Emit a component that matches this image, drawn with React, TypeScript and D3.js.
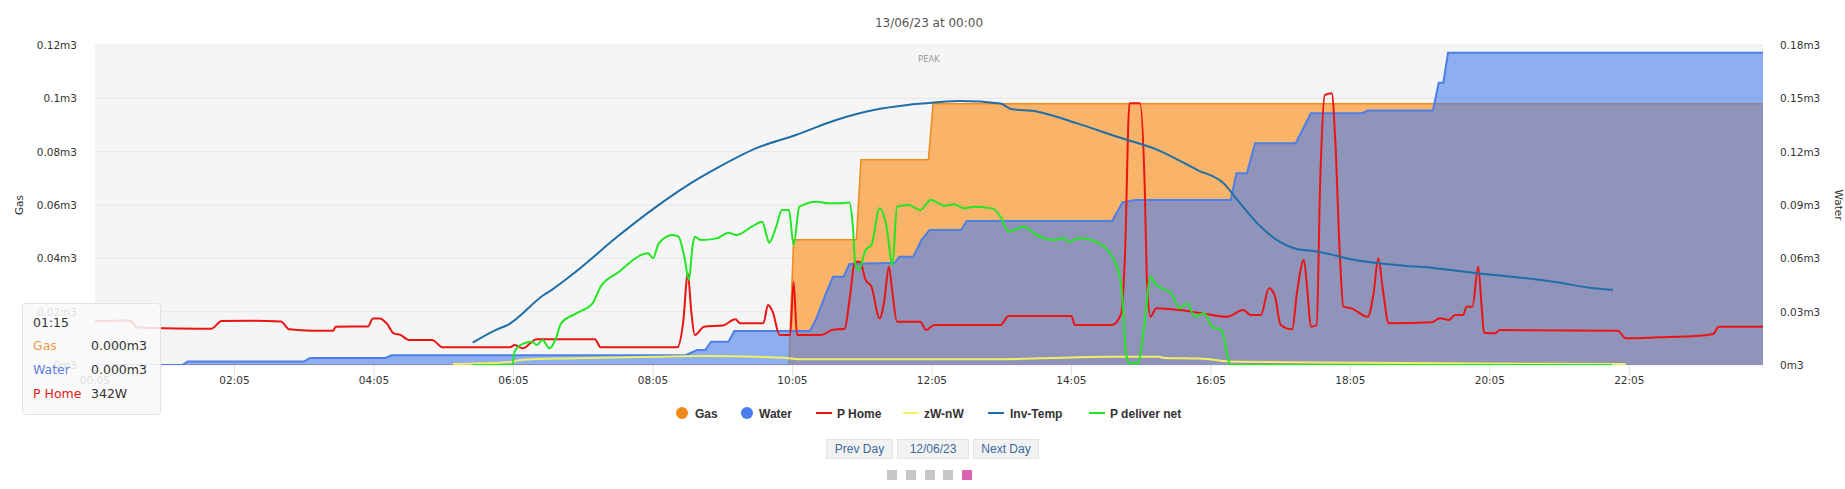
import * as d3 from 'd3';

// ---- data ----
const xTickLabels = ['00:05', '02:05', '04:05', '06:05', '08:05', '10:05', '12:05', '14:05', '16:05', '18:05', '20:05', '22:05'];
const gasTicks = [0, 0.02, 0.04, 0.06, 0.08, 0.1, 0.12];
const waterTicks = [0, 0.03, 0.06, 0.09, 0.12, 0.15, 0.18];

const gasTimes = ['00:05', '10:02', '10:06', '11:00', '11:04', '12:02', '12:06', '24:00'];
const gasValues = [0, 0, 0.047, 0.047, 0.077, 0.077, 0.098, 0.098];

const waterTimes = [
  '00:05', '01:20', '01:25', '03:05', '03:10', '04:15', '04:20', '08:33', '08:43', '08:50', '08:55', '09:10', '09:15',
  '10:20', '10:25', '10:34', '10:40', '10:49', '10:54', '11:33', '11:37', '11:49', '11:56', '12:03', '12:30', '12:35',
  '14:40', '14:49', '15:00', '16:22', '16:27', '16:36', '16:43', '17:18', '17:31', '18:15', '18:20', '19:16', '19:21',
  '19:25', '19:29', '24:00',
];
const waterValues = [
  0, 0, 0.002, 0.002, 0.004, 0.004, 0.0055, 0.0055, 0.0084, 0.0084, 0.0131, 0.0131, 0.0191,
  0.0191, 0.0253, 0.0405, 0.0497, 0.0497, 0.0568, 0.0575, 0.0609, 0.0609, 0.0703, 0.0759, 0.0759, 0.081,
  0.081, 0.0915, 0.0928, 0.0928, 0.1078, 0.1078, 0.1247, 0.1247, 0.1416, 0.1416, 0.1431, 0.1431, 0.1588,
  0.1588, 0.1757, 0.1757,
];

const homeTimes = [
  '00:05', '00:30', '00:36', '00:41', '01:15', '01:45', '01:54', '02:20', '02:45', '02:52', '03:12', '03:30', '03:32',
  '04:00', '04:04', '04:10', '04:16', '04:22', '04:28', '04:35', '04:55', '05:04', '06:02', '06:06', '06:13', '06:25',
  '07:15', '07:20', '08:26', '08:31', '08:35', '08:38', '08:41', '08:49', '09:05', '09:16', '09:20', '09:40', '09:44',
  '09:48', '09:54', '10:03', '10:06', '10:09', '10:30', '10:39', '10:50', '10:54', '10:59', '11:03', '11:08', '11:13',
  '11:20', '11:24', '11:28', '11:31', '11:35', '11:55', '12:00', '12:07', '13:04', '13:11', '14:05', '14:08', '14:40',
  '14:48', '14:51', '14:55', '15:04', '15:08', '15:10', '15:13', '15:18', '15:38', '15:58', '16:19', '16:33', '16:39',
  '16:48', '16:55', '17:00', '17:05', '17:15', '17:19', '17:25', '17:28', '17:31', '17:36', '17:39', '17:43', '17:49',
  '17:52', '17:56', '17:59', '18:06', '18:20', '18:25', '18:29', '18:33', '18:38', '19:15', '19:22', '19:30', '19:35',
  '19:42', '19:45', '19:50', '19:55', '19:58', '20:00', '20:09', '20:14', '21:55', '22:02', '22:30', '23:03', '23:17',
  '23:22', '24:00',
];
const homeValues = [
  412, 418, 412, 353, 342, 340, 412, 415, 408, 335, 322, 322, 359,
  362, 437, 437, 390, 296, 281, 234, 234, 166, 166, 187, 156, 241,
  241, 166, 166, 400, 860, 500, 281, 359, 370, 428, 391, 391, 562,
  500, 281, 281, 781, 281, 281, 328, 340, 600, 969, 969, 797, 734,
  438, 600, 922, 680, 406, 406, 328, 375, 375, 459, 459, 375, 375,
  484, 1000, 2453, 2453, 1700, 800, 453, 531, 515, 484, 453, 515, 469,
  469, 719, 650, 375, 334, 672, 984, 700, 359, 375, 1700, 2531, 2547,
  2109, 1015, 547, 531, 453, 672, 1000, 703, 391, 400, 438, 422, 469,
  469, 547, 547, 922, 540, 303, 297, 328, 322, 250, 259, 272, 290,
  359, 359,
];

const zwTimes = ['05:13', '06:04', '06:11', '06:59', '08:08', '08:50', '09:40', '10:00', '10:10', '13:00', '14:39', '15:20', '15:25', '15:55', '16:28', '17:40', '19:55', '21:55', '22:02'];
const zwValues = [3, 10, 16, 21, 26, 28, 25, 22, 18, 18, 26, 26, 22, 20, 10, 8, 5, 3, 3];

const tempTimes = [
  '05:30', '05:50', '06:00', '06:31', '06:38', '06:59', '07:34', '08:08', '08:33', '09:00', '09:34', '10:08', '10:42',
  '11:16', '11:44', '12:07', '12:29', '13:04', '13:13', '13:35', '14:10', '14:45', '15:19', '15:53', '16:16', '16:28',
  '16:45', '17:02', '17:19', '17:36', '18:10', '18:44', '19:18', '19:52', '20:26', '21:00', '21:34', '21:51',
];
const tempValues = [
  22.8, 24.4, 25, 28.75, 29.4, 31.7, 36.0, 39.8, 42.3, 44.6, 47.1, 48.75, 50.6,
  51.9, 52.5, 52.8, 53.0, 52.7, 52.0, 51.7, 50.2, 48.5, 46.9, 44.4, 42.7, 40.6,
  37.7, 35.6, 34.5, 34.2, 33.1, 32.5, 32.1, 31.5, 31.0, 30.4, 29.6, 29.4,
];

const deliverTimes = [
  '05:30', '06:04', '06:06', '06:11', '06:21', '06:25', '06:30', '06:36', '06:41', '06:46', '06:59', '07:13', '07:20',
  '07:34', '08:01', '08:05', '08:10', '08:22', '08:27', '08:32', '08:36', '08:39', '08:41', '08:46', '09:00', '09:10',
  '09:17', '09:30', '09:39', '09:43', '09:45', '09:51', '09:56', '10:02', '10:06', '10:11', '10:26', '10:36', '10:44',
  '10:54', '10:57', '10:59', '11:02', '11:08', '11:13', '11:20', '11:26', '11:31', '11:35', '11:45', '11:55', '12:04',
  '12:16', '12:24', '12:33', '12:41', '12:57', '13:04', '13:11', '13:24', '13:35', '13:49', '13:59', '14:02', '14:12',
  '14:29', '14:40', '14:46', '14:49', '14:52', '14:55', '15:02', '15:08', '15:13', '15:18', '15:31', '15:38', '15:45',
  '15:51', '15:59', '16:06', '16:14', '16:22', '21:50',
];
const deliverValues = [
  0, 0, 166, 250, 291, 250, 312, 208, 312, 521, 646, 771, 979,
  1146, 1396, 1333, 1521, 1625, 1604, 1354, 1062, 1479, 1604, 1562, 1583, 1654,
  1625, 1729, 1792, 1604, 1529, 1729, 1937, 1937, 1500, 1979, 2042, 2021, 2021,
  2030, 1729, 1271, 1187, 1437, 1500, 1958, 1729, 1250, 1979, 2000, 1937, 2062,
  1992, 2010, 1958, 1979, 1958, 1854, 1667, 1729, 1625, 1562, 1583, 1542, 1583,
  1521, 1354, 1146, 812, 146, 21, 21, 521, 1104, 1000, 896, 708, 771,
  604, 646, 479, 437, 0, 0,
];

const legendNames = ['Gas', 'Water', 'P Home', 'zW-nW', 'Inv-Temp', 'P deliver net'];
const tooltipTime = '01:15';
const tooltipNames = ['Gas', 'Water', 'P Home'];
const tooltipValues = ['0.000m3', '0.000m3', '342W'];
const buttonLabels = ['Prev Day', '12/06/23', 'Next Day'];

// ---- helpers ----
const toHours = (s: string) => {
  const [h, m] = s.split(':').map(Number);
  return h + m / 60;
};

const COLORS = {
  gasLine: '#f08a1a',
  gasFill: '#fa9d3a',
  waterLine: '#4d7fe6',
  waterFill: '#4a7ef0',
  home: '#ec1313',
  zw: '#f0f060',
  temp: '#1f6ea8',
  deliver: '#22e622',
};

const FONT = '"DejaVu Sans", sans-serif';
const FONT2 = '"Liberation Sans", Arial, sans-serif';

export default function App() {
  const width = 1845;
  const height = 489;
  const plot = { left: 95, right: 1763, top: 45, bottom: 365 };

  const x = d3.scaleLinear().domain([5 / 60, 24]).range([plot.left, plot.right]);
  const yGas = d3.scaleLinear().domain([0, 0.12]).range([plot.bottom, plot.top]);
  const yWater = d3.scaleLinear().domain([0, 0.18]).range([plot.bottom, plot.top]);
  const yHome = d3.scaleLinear().domain([0, 3000]).range([plot.bottom, plot.top]);
  const yZw = d3.scaleLinear().domain([0, 1000]).range([plot.bottom, plot.top]);
  const yTemp = d3.scaleLinear().domain([20, 60]).range([plot.bottom, plot.top]);
  const yDeliver = d3.scaleLinear().domain([0, 4000]).range([plot.bottom, plot.top]);

  const pts = (times: string[], values: number[]) => times.map((t, i) => [toHours(t), values[i]] as [number, number]);

  const areaPath = (times: string[], values: number[], y: d3.ScaleLinear<number, number>) =>
    d3.area<[number, number]>()
      .x((d) => x(d[0]))
      .y0(plot.bottom)
      .y1((d) => y(d[1]))(pts(times, values)) || '';

  const linePath = (times: string[], values: number[], y: d3.ScaleLinear<number, number>, smooth = true) =>
    d3.line<[number, number]>()
      .x((d) => x(d[0]))
      .y((d) => y(d[1]))
      .curve(smooth ? d3.curveMonotoneX : d3.curveLinear)(pts(times, values)) || '';

  const legendX = [682, 747, 816, 903, 988, 1089];
  const legendTextX = [695, 759, 837, 924, 1010, 1110];
  const legendY = 413;
  const legendColors = [COLORS.gasLine, COLORS.waterFill, COLORS.home, COLORS.zw, COLORS.temp, COLORS.deliver];

  const buttonX = [826, 897, 973];
  const buttonW = [66, 71, 65];
  const squareX = [887, 906, 925, 943, 962];

  return (
    <svg width={width} height={height} style={{ position: 'absolute', left: 0, top: 0, background: '#fff' }}>
      <defs>
        <clipPath id="plot-clip">
          <rect x={plot.left} y={plot.top} width={plot.right - plot.left} height={plot.bottom - plot.top} />
        </clipPath>
      </defs>

      {/* title */}
      <text x={(plot.left + plot.right) / 2} y={27} textAnchor="middle" fontFamily={FONT} fontSize={12} fill="#555">
        13/06/23 at 00:00
      </text>

      {/* plot background (peak band) */}
      <rect x={plot.left} y={plot.top} width={plot.right - plot.left} height={plot.bottom - plot.top} fill="#f5f5f5" />
      <text x={(plot.left + plot.right) / 2} y={62} textAnchor="middle" fontFamily={FONT} fontSize={8.5} fill="#9a9a9a">
        PEAK
      </text>

      {/* grid */}
      {gasTicks.map((t) => (
        <line key={`g${t}`} x1={plot.left} x2={plot.right} y1={yGas(t)} y2={yGas(t)} stroke="#e6e6e6" />
      ))}

      {/* x axis ticks */}
      {xTickLabels.map((l) => (
        <g key={l}>
          <line x1={x(toHours(l))} x2={x(toHours(l))} y1={plot.bottom} y2={plot.bottom + 10} stroke="#dedede" />
          <text x={x(toHours(l))} y={384} textAnchor="middle" fontFamily={FONT} fontSize={10.5} fill="#333">
            {l}
          </text>
        </g>
      ))}

      {/* y axes */}
      {gasTicks.map((t) => (
        <text key={`gl${t}`} x={77} y={yGas(t) + 4} textAnchor="end" fontFamily={FONT} fontSize={10.5} fill="#333">
          {`${+t.toFixed(2)}m3`}
        </text>
      ))}
      {waterTicks.map((t) => (
        <text key={`wl${t}`} x={1780} y={yWater(t) + 4} textAnchor="start" fontFamily={FONT} fontSize={10.5} fill="#333">
          {`${+t.toFixed(2)}m3`}
        </text>
      ))}
      <text transform={`translate(23,${(plot.top + plot.bottom) / 2}) rotate(-90)`} textAnchor="middle" fontFamily={FONT} fontSize={10.5} fill="#333">
        Gas
      </text>
      <text transform={`translate(1835,${(plot.top + plot.bottom) / 2}) rotate(90)`} textAnchor="middle" fontFamily={FONT} fontSize={10.5} fill="#333">
        Water
      </text>

      {/* series */}
      <g clipPath="url(#plot-clip)">
        <path d={areaPath(gasTimes, gasValues, yGas)} fill={COLORS.gasFill} fillOpacity={0.75} />
        <path d={linePath(gasTimes, gasValues, yGas, false)} fill="none" stroke={COLORS.gasLine} strokeWidth={1.5} />
        <path d={areaPath(waterTimes, waterValues, yWater)} fill={COLORS.waterFill} fillOpacity={0.6} />
        <path d={linePath(waterTimes, waterValues, yWater, false)} fill="none" stroke={COLORS.waterLine} strokeWidth={2} />
        <path d={linePath(homeTimes, homeValues, yHome)} fill="none" stroke={COLORS.home} strokeWidth={2} />
        <path d={linePath(zwTimes, zwValues, yZw)} fill="none" stroke={COLORS.zw} strokeWidth={2} />
        <path d={linePath(tempTimes, tempValues, yTemp)} fill="none" stroke={COLORS.temp} strokeWidth={2} />
        <path d={linePath(deliverTimes, deliverValues, yDeliver)} fill="none" stroke={COLORS.deliver} strokeWidth={2} />
      </g>

      {/* legend */}
      {legendNames.map((name, i) => (
        <g key={name}>
          {i < 2 ? (
            <circle cx={legendX[i]} cy={legendY} r={6} fill={legendColors[i]} />
          ) : (
            <line x1={legendX[i]} x2={legendX[i] + 16} y1={legendY} y2={legendY} stroke={legendColors[i]} strokeWidth={2} />
          )}
          <text x={legendTextX[i]} y={legendY + 4.5} fontFamily={FONT2} fontWeight="bold" fontSize={12} fill="#333">
            {name}
          </text>
        </g>
      ))}

      {/* navigation buttons */}
      {buttonLabels.map((b, i) => (
        <g key={b}>
          <rect x={buttonX[i] + 0.5} y={439.5} width={buttonW[i]} height={19} fill="#f2f2f2" stroke="#e4e4e4" />
          <text x={buttonX[i] + buttonW[i] / 2 + 0.5} y={453} textAnchor="middle" fontFamily={FONT2} fontSize={12} fill="#3a6a9c">
            {b}
          </text>
        </g>
      ))}
      {squareX.map((sx, i) => (
        <rect key={sx} x={sx} y={470} width={10} height={10} fill={i === squareX.length - 1 ? '#dc62b2' : '#c6c6c6'} />
      ))}

      {/* tooltip */}
      <g>
        <rect x={22.5} y={303.5} width={138} height={111} rx={3} fill="#f9f9f9" fillOpacity={0.86} stroke="#e2e2e2" />
        <text x={33} y={327} fontFamily={FONT} fontSize={12.5} fill="#333">
          {tooltipTime}
        </text>
        {tooltipNames.map((n, i) => (
          <g key={n}>
            <text x={33} y={350 + i * 24} fontFamily={FONT} fontSize={12.5} fill={[ '#ec9a4a', '#5a7ee2', '#e21818' ][i]}>
              {n}
            </text>
            <text x={91} y={350 + i * 24} fontFamily={FONT} fontSize={12.5} fill="#333">
              {tooltipValues[i]}
            </text>
          </g>
        ))}
      </g>
    </svg>
  );
}
